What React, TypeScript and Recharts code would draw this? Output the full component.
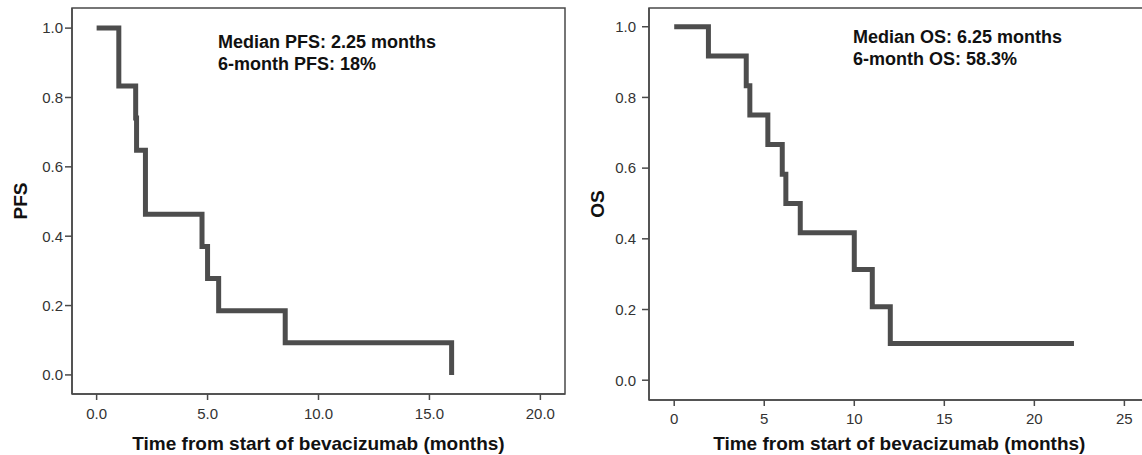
import { LineChart, Line, XAxis, YAxis, ReferenceArea } from "recharts";

// Kaplan-Meier steps
const pfsTime = [0, 1.0, 1.76, 1.8, 2.2, 4.75, 5.0, 5.5, 8.5, 16.0];
const pfsSurv = [1, 0.833, 0.741, 0.648, 0.463, 0.37, 0.278, 0.185, 0.093, 0];

const osTime = [0, 1.9, 4.0, 4.2, 5.2, 6.0, 6.2, 7.0, 10.0, 11.0, 12.0, 22.2];
const osSurv = [1, 0.917, 0.833, 0.75, 0.667, 0.583, 0.5, 0.417, 0.313, 0.208, 0.104, 0.104];

const survTicks = [0, 0.2, 0.4, 0.6, 0.8, 1.0];
const pfsTimeTicks = [0, 5, 10, 15, 20];
const osTimeTicks = [0, 5, 10, 15, 20, 25];

const pfsNotes = ["Median PFS: 2.25 months", "6-month PFS: 18%"];
const osNotes = ["Median OS: 6.25 months", "6-month OS: 58.3%"];

const xTitle = "Time from start of bevacizumab (months)";

const pfsData = pfsTime.map((t, i) => ({ t, s: pfsSurv[i] }));
const osData = osTime.map((t, i) => ({ t, s: osSurv[i] }));

const FONT = "'Liberation Sans', Arial, sans-serif";
const AXIS = "#4a4a4a";
const CURVE = "#4d4d4d";
const tickStyle = { fontSize: 15, fill: "#333", fontFamily: FONT };
const titleStyle = { fontSize: 19, fontWeight: 700, fill: "#111", fontFamily: FONT };

function Notes({ lines, left, top }: { lines: string[]; left: number; top: number }) {
  return (
    <div
      style={{
        position: "absolute",
        left,
        top,
        fontFamily: FONT,
        fontWeight: 700,
        fontSize: 18,
        lineHeight: "22.5px",
        color: "#111",
        whiteSpace: "nowrap",
      }}
    >
      {lines.map((l) => (
        <div key={l}>{l}</div>
      ))}
    </div>
  );
}

export default function App() {
  const pfsX: [number, number] = [-1.11, 21.11];
  const pfsY: [number, number] = [-0.055, 1.058];
  const osX: [number, number] = [-1.4, 26.4];
  const osY: [number, number] = [-0.056, 1.053];

  return (
    <div
      style={{
        position: "absolute",
        left: 0,
        top: 0,
        width: 1142,
        height: 455,
        overflow: "hidden",
        background: "#fff",
        fontFamily: FONT,
      }}
    >
      <div style={{ position: "absolute", left: 0, top: 0 }}>
        <LineChart width={600} height={455} data={pfsData} margin={{ top: 8, right: 35, bottom: 0, left: 0 }}>
          <XAxis
            dataKey="t"
            type="number"
            domain={pfsX}
            ticks={pfsTimeTicks}
            tickFormatter={(v: number) => v.toFixed(1)}
            allowDataOverflow
            height={61}
            tickSize={6}
            tickMargin={8}
            tick={tickStyle}
            stroke={AXIS}
            strokeWidth={1.5}
            label={{ value: xTitle, position: "insideBottom", offset: 5, style: titleStyle }}
          />
          <YAxis
            type="number"
            domain={pfsY}
            ticks={survTicks}
            tickFormatter={(v: number) => v.toFixed(1)}
            allowDataOverflow
            width={72}
            tickSize={7}
            tickMargin={2}
            tick={tickStyle}
            stroke={AXIS}
            strokeWidth={1.5}
            label={{ value: "PFS", angle: -90, position: "insideLeft", offset: 20, style: { ...titleStyle, textAnchor: "middle" } }}
          />
          <ReferenceArea x1={pfsX[0]} x2={pfsX[1]} y1={pfsY[0]} y2={pfsY[1]} fill="none" stroke={AXIS} strokeWidth={1.5} />
          <Line type="stepAfter" dataKey="s" stroke={CURVE} strokeWidth={5} dot={false} isAnimationActive={false} />
        </LineChart>
      </div>
      <Notes lines={pfsNotes} left={218} top={30.5} />

      <div style={{ position: "absolute", left: 580, top: 0 }}>
        <LineChart width={600} height={455} data={osData} margin={{ top: 8, right: 30.4, bottom: 0, left: 0 }}>
          <XAxis
            dataKey="t"
            type="number"
            domain={osX}
            ticks={osTimeTicks}
            allowDataOverflow
            height={55}
            tickSize={6}
            tickMargin={7}
            tick={tickStyle}
            stroke={AXIS}
            strokeWidth={1.5}
            label={{ value: xTitle, position: "insideBottom", offset: 5, style: titleStyle }}
          />
          <YAxis
            type="number"
            domain={osY}
            ticks={survTicks}
            tickFormatter={(v: number) => v.toFixed(1)}
            allowDataOverflow
            width={69}
            tickSize={7}
            tickMargin={6}
            tick={tickStyle}
            stroke={AXIS}
            strokeWidth={1.5}
            label={{ value: "OS", angle: -90, position: "insideLeft", offset: 17, style: { ...titleStyle, textAnchor: "middle" } }}
          />
          <ReferenceArea x1={osX[0]} x2={osX[1]} y1={osY[0]} y2={osY[1]} fill="none" stroke={AXIS} strokeWidth={1.5} />
          <Line type="stepAfter" dataKey="s" stroke={CURVE} strokeWidth={5} dot={false} isAnimationActive={false} />
        </LineChart>
      </div>
      <Notes lines={osNotes} left={853} top={25.8} />
    </div>
  );
}
